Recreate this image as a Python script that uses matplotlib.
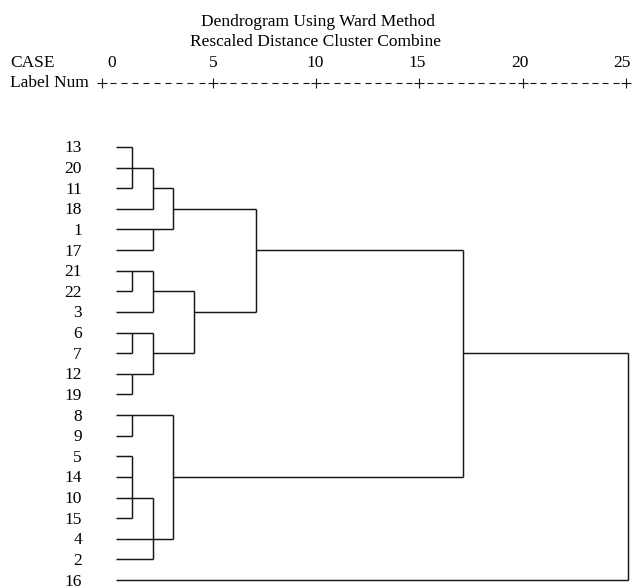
import numpy as np
import matplotlib
matplotlib.use('agg')
import matplotlib.pyplot as plt

plt.rcParams['font.family'] = ['Liberation Serif', 'DejaVu Serif']

# cases in dendrogram order, top to bottom
case_labels = [13, 20, 11, 18, 1, 17, 21, 22, 3, 6, 7, 12, 19, 8, 9, 5, 14, 10, 15, 4, 2, 16]
# rescaled distance where each case's line stops
leaf_join = [1, 1, 1, 2, 2, 2, 1, 1, 2, 1, 1, 1, 1, 1, 1, 1, 1, 1, 1, 2, 2, 25]

# merges: distance, vertical span (top/bottom case), case row the link leaves on, distance of next merge
merge_dist = [1, 2, 2, 3, 1, 2, 1, 1, 2, 4, 7, 1, 1, 2, 3, 17, 25]
merge_top = [13, 20, 1, 11, 21, 21, 6, 12, 6, 22, 18, 8, 5, 10, 8, 17, 7]
merge_bottom = [11, 18, 17, 1, 22, 3, 7, 19, 12, 7, 3, 9, 15, 2, 4, 14, 16]
merge_out = [20, 11, 1, 18, 21, 22, 6, 12, 7, 3, 17, 8, 10, 4, 14, 7, None]
merge_parent = [2, 3, 3, 7, 2, 4, 2, 2, 4, 7, 17, 3, 2, 3, 17, 25, None]

scale_ticks = [0, 5, 10, 15, 20, 25]

row = {c: i for i, c in enumerate(case_labels)}

W, H = 633, 588
x0, dx = 111.3, 20.67     # pixel of distance 0, pixels per unit
y0, dy = 147.0, 20.62     # pixel of first row, pixels per row

fig = plt.figure(figsize=(W / 100, H / 100), dpi=100)
ax = fig.add_axes([0, 0, 1, 1])
ax.set_xlim(-x0 / dx, (W - x0) / dx)
ax.set_ylim((H - y0) / dy, -y0 / dy)
ax.axis('off')

lc = '#151515'
lw = 1.05
leaf_start = 0.25
fs = 12.5
tdrop = 1.5 / dy   # text sits a touch low against the lines

# case lines
for i, d in enumerate(leaf_join):
    ax.hlines(i, leaf_start, d, color=lc, lw=lw)

# merge links
for d, t, b, o, p in zip(merge_dist, merge_top, merge_bottom, merge_out, merge_parent):
    ax.vlines(d, row[t], row[b], color=lc, lw=lw)
    if o is not None:
        ax.hlines(row[o], d, p, color=lc, lw=lw)

# case labels
for i, c in enumerate(case_labels):
    ax.text(-29.3 / dx, i + tdrop, str(c), ha='right', va='center', fontsize=fs)

# header
hdr = lambda py: (py - y0) / dy
ax.text((318 - x0) / dx, hdr(21) + tdrop, 'Dendrogram Using Ward Method', ha='center', va='center', fontsize=fs)
ax.text((315 - x0) / dx, hdr(41) + tdrop, 'Rescaled Distance Cluster Combine', ha='center', va='center', fontsize=fs)
ax.text(-101 / dx, hdr(62) + tdrop, 'CASE', ha='left', va='center', fontsize=fs)
ax.text(-101 / dx, hdr(82) + tdrop, 'Label Num', ha='left', va='center', fontsize=fs)
for t in scale_ticks:
    ax.text(t - 0.012 * t, hdr(62) + tdrop, str(t), ha='center', va='center', fontsize=fs)

# "+---------+" ruler
plus_x = [-0.45] + [t - 0.1 for t in scale_ticks[1:]]
ax.plot(plus_x, [hdr(83)] * len(plus_x), ls='none', marker='+', ms=6.5, mew=0.8, color=lc)
dash_x = np.concatenate([np.linspace(a, b, 11)[1:-1] for a, b in zip(plus_x[:-1], plus_x[1:])])
ax.plot(dash_x, [hdr(83)] * len(dash_x), ls='none', marker='_', ms=5, mew=0.8, color=lc)

fig.savefig('out.png', dpi=100)
